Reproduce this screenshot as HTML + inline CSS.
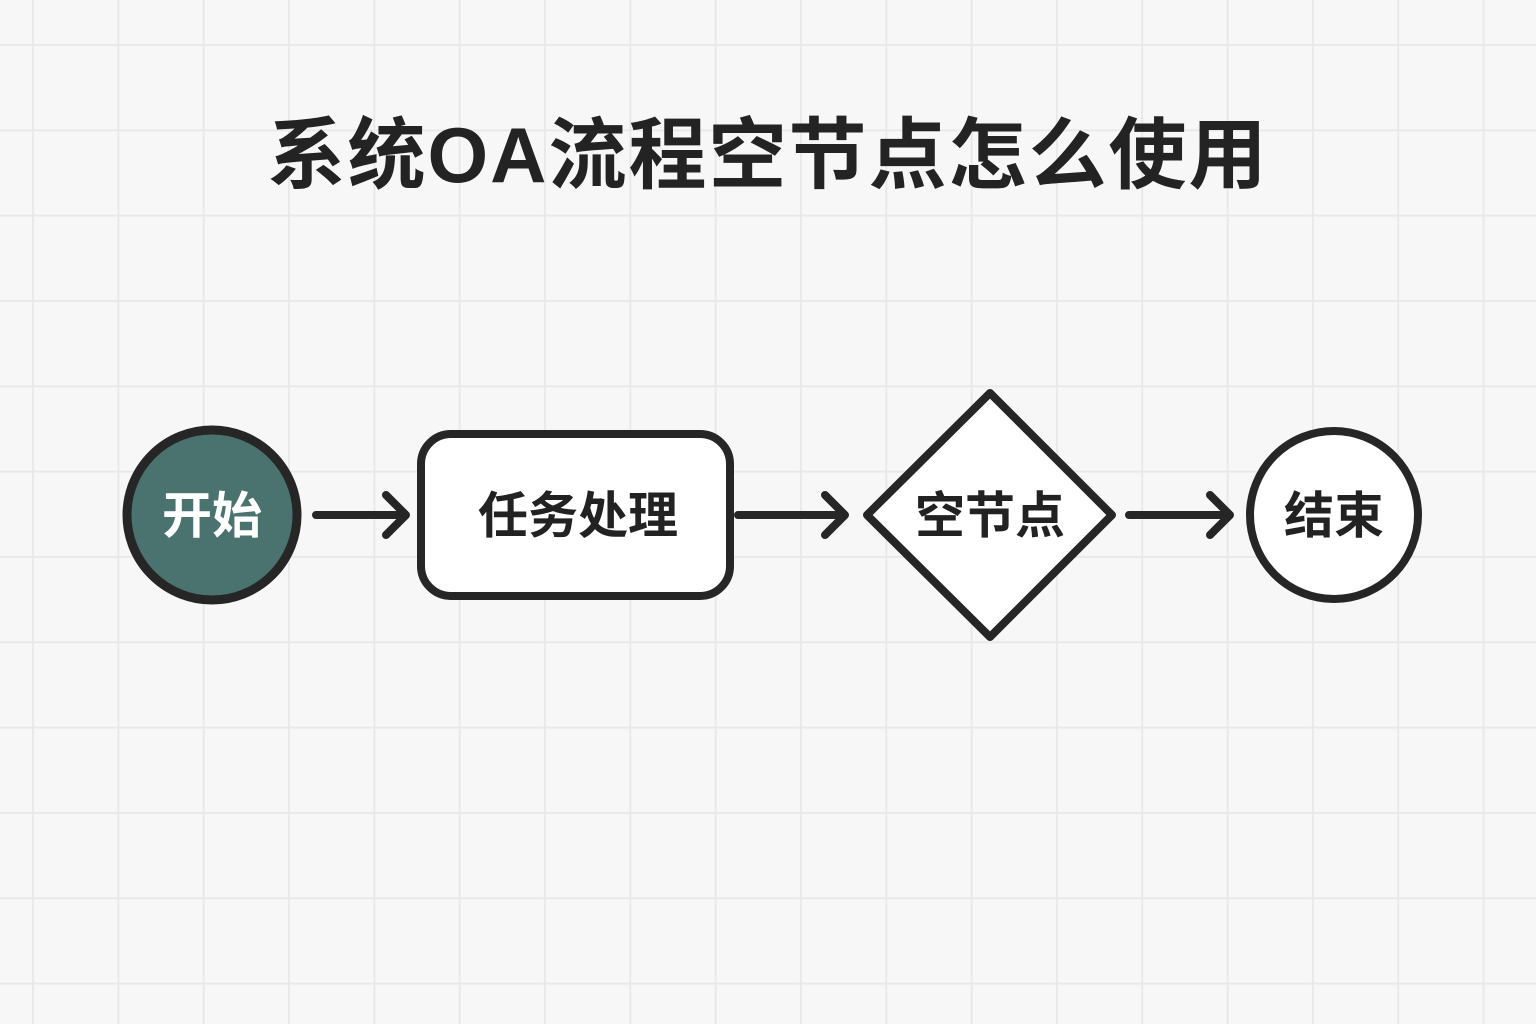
<!DOCTYPE html>
<html><head><meta charset="utf-8"><style>
html,body{margin:0;padding:0}
body{width:1536px;height:1024px;overflow:hidden;background:#f7f7f7;
background-image:linear-gradient(to right,#e9e9e9 2px,transparent 2px),linear-gradient(to bottom,#e9e9e9 2px,transparent 2px);
background-size:85.33px 85.33px;background-position:32px 44px;position:relative;
font-family:"Liberation Sans","Noto Sans CJK SC",sans-serif}
</style></head><body>
<svg width="1536" height="1024" style="position:absolute;left:0;top:0">
<text x="768" y="182" text-anchor="middle" font-size="78" letter-spacing="2" font-weight="bold" fill="#232323" font-family="Liberation Sans, Noto Sans CJK SC, sans-serif">系统OA流程空节点怎么使用</text>
<g stroke="#262626" stroke-width="8" stroke-linecap="round" stroke-linejoin="round">
<circle cx="212" cy="515" r="85" fill="#4a7370" stroke-width="9"/>
<rect x="421" y="434" width="309" height="162" rx="30" fill="#fff"/>
<polygon points="990,393 1112,515 990,637 867,515" fill="#fff"/>
<circle cx="1334" cy="515" r="84" fill="#fff"/>
<g fill="none">
<path d="M316 515H406M386 495L406 515L386 535"/>
<path d="M738 515H845M825 495L845 515L825 535"/>
<path d="M1129 515H1230M1210 495L1230 515L1210 535"/>
</g>
</g>
<g font-size="50" font-weight="bold" text-anchor="middle" font-family="Liberation Sans, Noto Sans CJK SC, sans-serif">
<text x="212" y="533" fill="#fff">开始</text>
<text x="578" y="533" fill="#222">任务处理</text>
<text x="990" y="533" fill="#222">空节点</text>
<text x="1334" y="533" fill="#222">结束</text>
</g>
</svg>
</body></html>
